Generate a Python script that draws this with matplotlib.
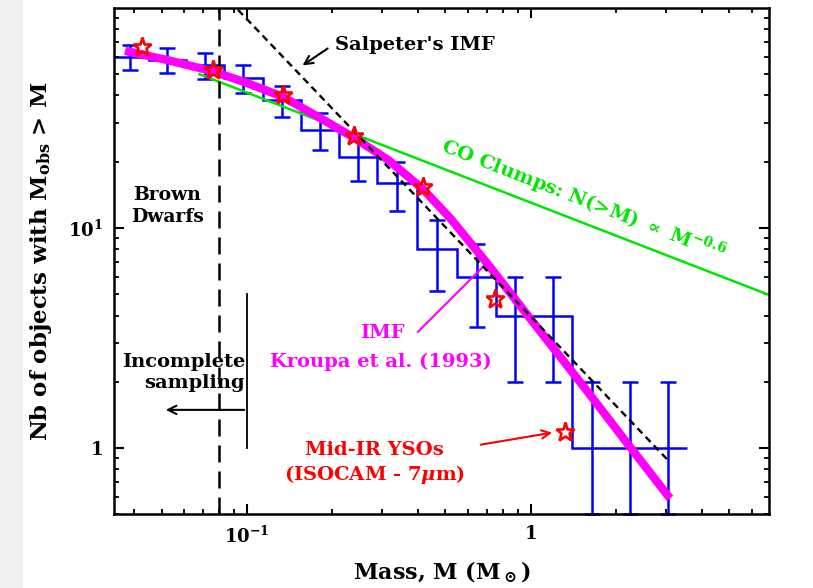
import numpy as np
import matplotlib
matplotlib.use('Agg')
import matplotlib.pyplot as plt
from matplotlib.patches import Rectangle
from matplotlib.ticker import FixedLocator, FixedFormatter, LogLocator, NullFormatter

# cumulative number of objects N(>M), one value per mass bin
bin_mass = [0.0387, 0.0523, 0.0711, 0.0968, 0.133, 0.181, 0.246, 0.337,
            0.467, 0.646, 0.879, 1.195, 1.64, 2.23, 3.04]
bin_count = [60, 58, 55, 48, 38, 28, 21, 16, 8, 6, 4, 4, 1, 1, 1]

# mid-IR YSOs (ISOCAM 7um)
yso_mass = [0.0427, 0.0759, 0.134, 0.238, 0.417, 0.747, 1.318]
yso_count = [66.5, 52.3, 40.2, 26.2, 15.4, 4.76, 1.18]

# Kroupa et al. (1993) IMF, cumulative form
kroupa_mass = [0.0372, 0.0523, 0.0759, 0.100, 0.134, 0.178, 0.236, 0.314,
               0.417, 0.519, 0.700, 1.016, 1.575, 2.23, 3.09]
kroupa_count = [63.8, 58.0, 51.5, 45.6, 39.4, 32.0, 25.9, 20.4,
                15.0, 11.1, 6.93, 3.74, 1.82, 1.015, 0.59]

# Salpeter IMF and CO clumps power laws (end points)
salp_mass = [0.093, 3.04]
salp_count = [98, 0.88]
co_mass = [0.068, 6.9]
co_count = [50.0, 4.96]

BLUE = '#0000ff'
GREEN = '#00e600'
MAGENTA = '#ff00ff'
RED = '#ff0000'

plt.rcParams['font.family'] = 'DejaVu Serif'
plt.rcParams['font.weight'] = 'bold'
plt.rcParams['axes.labelweight'] = 'bold'
plt.rcParams['mathtext.fontset'] = 'custom'
plt.rcParams['mathtext.rm'] = 'DejaVu Serif:bold'
plt.rcParams['mathtext.bf'] = 'DejaVu Serif:bold'
plt.rcParams['mathtext.it'] = 'DejaVu Serif:italic:bold'

fig = plt.figure(figsize=(8.13, 5.88), dpi=100)
fig.patches.append(Rectangle((0, 0), 22 / 813, 1, transform=fig.transFigure,
                             color='#f0f0f0', zorder=0))
ax = fig.add_axes([0.1402, 0.1255, 0.8057, 0.861])
ax.set_xscale('log')
ax.set_yscale('log')
ax.set_xlim(0.034, 6.9)
ax.set_ylim(0.5, 100)

# histogram with poisson error bars
counts = np.array(bin_count, dtype=float)
logm = np.log10(bin_mass)
edges = np.concatenate([[logm[0] - (logm[1] - logm[0]) / 2],
                        (logm[1:] + logm[:-1]) / 2,
                        [logm[-1] + (logm[-1] - logm[-2]) / 2]])
ax.stairs(counts, 10 ** edges, baseline=None, color=BLUE, lw=1.8, zorder=1)
err = np.sqrt(counts)
lower = np.minimum(err, counts - 0.5)
ax.errorbar(bin_mass, counts, yerr=[lower, err], fmt='none', ecolor=BLUE,
            elinewidth=1.8, capsize=5.5, capthick=1.8, zorder=1, clip_on=False)

ax.plot(co_mass, co_count, color=GREEN, lw=1.8, zorder=2)
ax.plot(kroupa_mass, kroupa_count, color=MAGENTA, lw=6, zorder=3,
        solid_capstyle='butt', solid_joinstyle='round')
ax.plot(salp_mass, salp_count, color='black', lw=1.7, ls=(0, (3, 2)), zorder=4)
ax.plot(yso_mass, yso_count, ls='none', marker='*', ms=14, mfc='none',
        mec=RED, mew=1.9, zorder=5)

# brown dwarf limit and incompleteness
ax.axvline(0.08, color='black', lw=1.8, ls=(0, (6.8, 3.6)), zorder=4)
ax.plot([0.1, 0.1], [1, 5], color='black', lw=1.3)
ax.annotate('', xy=(0.0506, 1.49), xytext=(0.1, 1.49),
            arrowprops=dict(arrowstyle='->,head_length=0.6,head_width=0.3',
                            lw=1.5, color='black'))

fs = 14
ax.text(0.0523, 14.1, 'Brown', ha='center', va='center', fontsize=13.5)
ax.text(0.0523, 11.2, 'Dwarfs', ha='center', va='center', fontsize=13.5)
ax.text(0.0984, 2.46, 'Incomplete', ha='right', va='center', fontsize=fs)
ax.text(0.0984, 1.975, 'sampling', ha='right', va='center', fontsize=fs)

ax.text(0.204, 67.9, "Salpeter's IMF", ha='left', va='center', fontsize=fs)
ax.annotate('', xy=(0.154, 53.9), xytext=(0.196, 66.5),
            arrowprops=dict(arrowstyle='->,head_length=0.6,head_width=0.3',
                            lw=1.5, color='black'))

ax.text(1.524, 13.4, r'CO Clumps: N(>M) $\propto$ M$^{-0.6}$', color=GREEN,
        rotation=-21.2, rotation_mode='anchor', ha='center', va='center',
        fontsize=fs)

ax.text(0.301, 3.33, 'IMF', color=MAGENTA, ha='center', va='center', fontsize=fs)
ax.text(0.296, 2.46, 'Kroupa et al. (1993)', color=MAGENTA, ha='center',
        va='center', fontsize=fs)
ax.plot([0.400, 0.678], [3.37, 6.65], color=MAGENTA, lw=1.5)

ax.text(0.282, 0.979, 'Mid-IR YSOs', color=RED, ha='center', va='center', fontsize=fs)
ax.text(0.282, 0.754, r'(ISOCAM - 7$\mu$m)', color=RED, ha='center',
        va='center', fontsize=fs)
ax.annotate('', xy=(1.215, 1.18), xytext=(0.651, 1.03),
            arrowprops=dict(arrowstyle='->,head_length=0.6,head_width=0.3',
                            lw=1.5, color=RED))

# axes, ticks, labels
for sp in ax.spines.values():
    sp.set_linewidth(1.8)
ax.xaxis.set_major_locator(FixedLocator([0.1, 1]))
ax.xaxis.set_major_formatter(FixedFormatter([r'$10^{-1}$', '1']))
ax.xaxis.set_minor_locator(LogLocator(subs=np.arange(2, 10)))
ax.xaxis.set_minor_formatter(NullFormatter())
ax.yaxis.set_major_locator(FixedLocator([1, 10]))
ax.yaxis.set_major_formatter(FixedFormatter(['1', r'$10^{1}$']))
ax.yaxis.set_minor_locator(LogLocator(subs=np.arange(2, 10)))
ax.yaxis.set_minor_formatter(NullFormatter())
ax.tick_params(which='both', direction='in', top=True, right=True,
               labelsize=13, pad=8)
ax.tick_params(which='major', length=7.2, width=1.5)
ax.tick_params(which='minor', length=3.6, width=1.3)

ax.set_xlabel(r'Mass, M (M$_\odot$)', fontsize=16)
ax.set_ylabel(r'Nb of objects with M$_{\rm obs}$ > M', fontsize=16.5)
ax.xaxis.set_label_coords(0.5, -0.09)
ax.yaxis.set_label_coords(-0.092, 0.5)

fig.savefig('out.png', dpi=100)
